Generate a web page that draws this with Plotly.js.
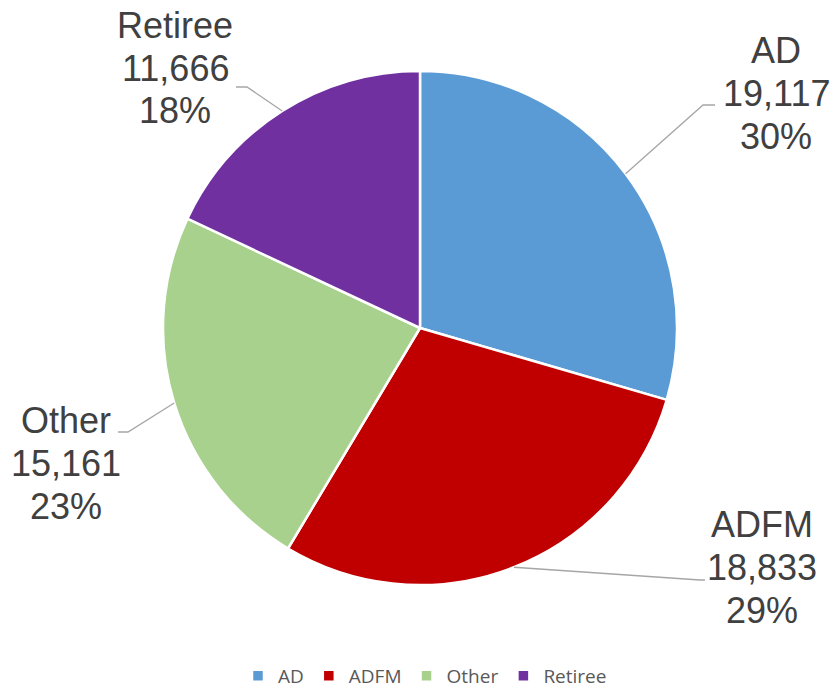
<!DOCTYPE html>
<html><head><meta charset="utf-8">
<script src="https://cdn.plot.ly/plotly-3.0.1.min.js"></script>
<style>html,body{margin:0;padding:0;background:#fff}</style>
</head><body>
<div id="chart" style="width:833px;height:691px"></div>
<script>
const categories = ["AD", "ADFM", "Other", "Retiree"];
const values = [19117, 18833, 15161, 11666];
const colors = ["#5B9BD5", "#C00000", "#A9D18E", "#7030A0"];

const W = 833, H = 691;
const cx = 420, cy = 328, R = 257;
const labelPos = [[776, 93], [762, 567], [66, 463], [175, 68]];
const elbows = [[[703,105],[715,105]], [[700,580],[705,580]], [[128,432],[118,432]], [[247,87],[236,87]]];
const lineGap = 43;

const total = values.reduce((a,b)=>a+b,0);

function decorations(s) {
  const px = x => (x - s.l) / s.w, py = y => 1 - (y - s.t) / s.h;
  const annotations = [], shapes = [];
  let cum = 0;
  values.forEach((v, i) => {
    const mid = (cum + v / 2) / total * 2 * Math.PI;
    cum += v;
    const sx = cx + R * Math.sin(mid), sy = cy - R * Math.cos(mid);
    const pts = [[sx, sy]].concat(elbows[i]);
    const path = 'M' + pts.map(p => px(p[0]) + ',' + py(p[1])).join(' L');
    shapes.push({type: 'path', xref: 'paper', yref: 'paper', path: path,
      line: {color: '#A6A6A6', width: 1.3}});
    const pct = Math.round(v / total * 100);
    const lines = [categories[i], v.toLocaleString('en-US'), pct + '%'];
    lines.forEach((t, k) => {
      annotations.push({xref: 'paper', yref: 'paper', x: px(labelPos[i][0]), y: py(labelPos[i][1] + (k - 1) * lineGap),
        xanchor: 'center', yanchor: 'middle', showarrow: false, text: t,
        font: {family: 'Liberation Sans, Arial, sans-serif', size: 36, color: '#404040'}});
    });
  });
  return {annotations, shapes,
    domain: {x: [px(cx - R), px(cx + R)], y: [py(cy + R), py(cy - R)]}};
}

const trace = {
  type: 'pie', labels: categories, values: values, sort: false, direction: 'clockwise', rotation: 0,
  marker: {colors: colors, line: {color: '#FFFFFF', width: 2.5}},
  textinfo: 'none', hoverinfo: 'label+value+percent'
};

const layout = {
  width: W, height: H, margin: {l: 0, r: 0, t: 0, b: 0},
  paper_bgcolor: '#FFFFFF', plot_bgcolor: '#FFFFFF',
  showlegend: true,
  legend: {orientation: 'h', x: 425 / W, xanchor: 'center', yref: 'container', y: 1 - 676 / H, yanchor: 'middle',
    font: {family: 'Open Sans, sans-serif', size: 19, color: '#595959'}, itemwidth: 30},
};
const gd = document.getElementById('chart');
Plotly.newPlot(gd, [trace], layout, {displayModeBar: false}).then(() => {
  const d = decorations(gd._fullLayout._size);
  return Plotly.update(gd, {'domain.x': [d.domain.x], 'domain.y': [d.domain.y]},
    {annotations: d.annotations, shapes: d.shapes});
});
</script>
</body></html>
